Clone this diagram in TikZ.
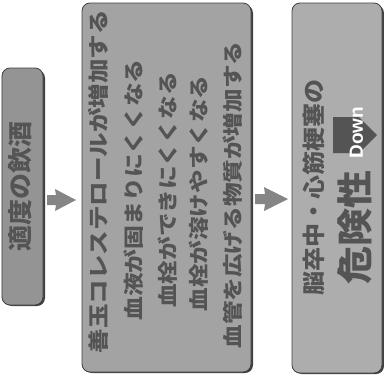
\documentclass[tikz,border=0pt]{standalone}
\usepackage{fontspec}
\usepackage{graphicx}
\newfontfamily\jp{Noto Sans CJK JP}
\setsansfont{Liberation Sans}
\definecolor{boxfill}{gray}{0.64}
\definecolor{boxfillL}{gray}{0.58}
\definecolor{boxfillR}{gray}{0.68}
\definecolor{txtdark}{gray}{0.33}
\definecolor{edge}{gray}{0.25}
\definecolor{arrowfill}{gray}{0.52}
\tikzset{
  panel/.style={draw=edge, line width=0.8pt, rounded corners=8pt, inner sep=0pt},
  shade/.style={fill=edge, rounded corners=8pt, draw=none},
  vtext/.style={rotate=90, inner sep=0pt, text=txtdark, font=\jp\bfseries},
  fatarrow/.style={fill=arrowfill, draw=none}
}
\newcommand{\jl}[3]{\fontsize{#1}{#1}\selectfont\scalebox{1}[#2]{#3}}
\begin{document}
\begin{tikzpicture}[x=1pt,y=-1pt]
\useasboundingbox (0,0) rectangle (384,376);
\fill[white] (0,0) rectangle (384,376);
% shadows
\fill[shade] (4,70) rectangle (45,306);
\fill[shade] (84,5) rectangle (253,373);
\fill[shade] (294,5) rectangle (384,374);
% panels
\node[panel, fill=boxfillL, minimum width=41pt, minimum height=237pt] (left) at (22.5,186.5) {};
\node[panel, fill=boxfill, minimum width=169pt, minimum height=369pt] (mid) at (166.5,187.5) {};
\node[panel, fill=boxfillR, minimum width=90pt, minimum height=370pt] (right) at (337,188) {};
% arrows between panels
\coordinate (a1) at (47,190);
\coordinate (a2) at (255,189);
\fill[fatarrow] ([yshift=-5]a1) -- ++(9,0) -- ++(-1,-6) -- ++(21,11) -- ++(-21,11) -- ++(1,-6) -- ++(-9,0) -- cycle;
\fill[fatarrow] ([yshift=-5]a2) -- ++(10,0) -- ++(-1,-7) -- ++(24,12) -- ++(-24,12) -- ++(1,-7) -- ++(-10,0) -- cycle;
% left text
\node[vtext] (t0) at (20,186) {\jl{26}{0.95}{適度の飲酒}};
% middle text
\node[vtext] (m1) at (98,181.5) {\jl{24.5}{0.85}{善玉コレステロールが増加する}};
\node[vtext] (m2) at (134,190) {\jl{23.8}{0.85}{血液が固まりにくくなる}};
\node[vtext] (m3) at (167.5,190) {\jl{23.6}{0.85}{血栓ができにくくなる}};
\node[vtext] (m4) at (199,193.5) {\jl{23.6}{0.85}{血栓が溶けやすくなる}};
\node[vtext] (m5) at (233,195) {\jl{23.6}{0.85}{血管を広げる物質が増加する}};
% right text
\node[vtext] (r1) at (314,187) {\jl{24}{0.95}{脳卒中・心筋梗塞の}};
\node[vtext] (r2) at (354.5,227) {\jl{38}{0.95}{危険性}};
\fill[txtdark] (333,117) -- (359,117) -- (377,135) -- (359,153) -- (333,153) -- cycle;
\node[rotate=90, inner sep=0pt, text=white, font=\sffamily\bfseries\fontsize{19}{19}\selectfont] (down) at (356.5,132.5) {Down};
\end{tikzpicture}
\end{document}
